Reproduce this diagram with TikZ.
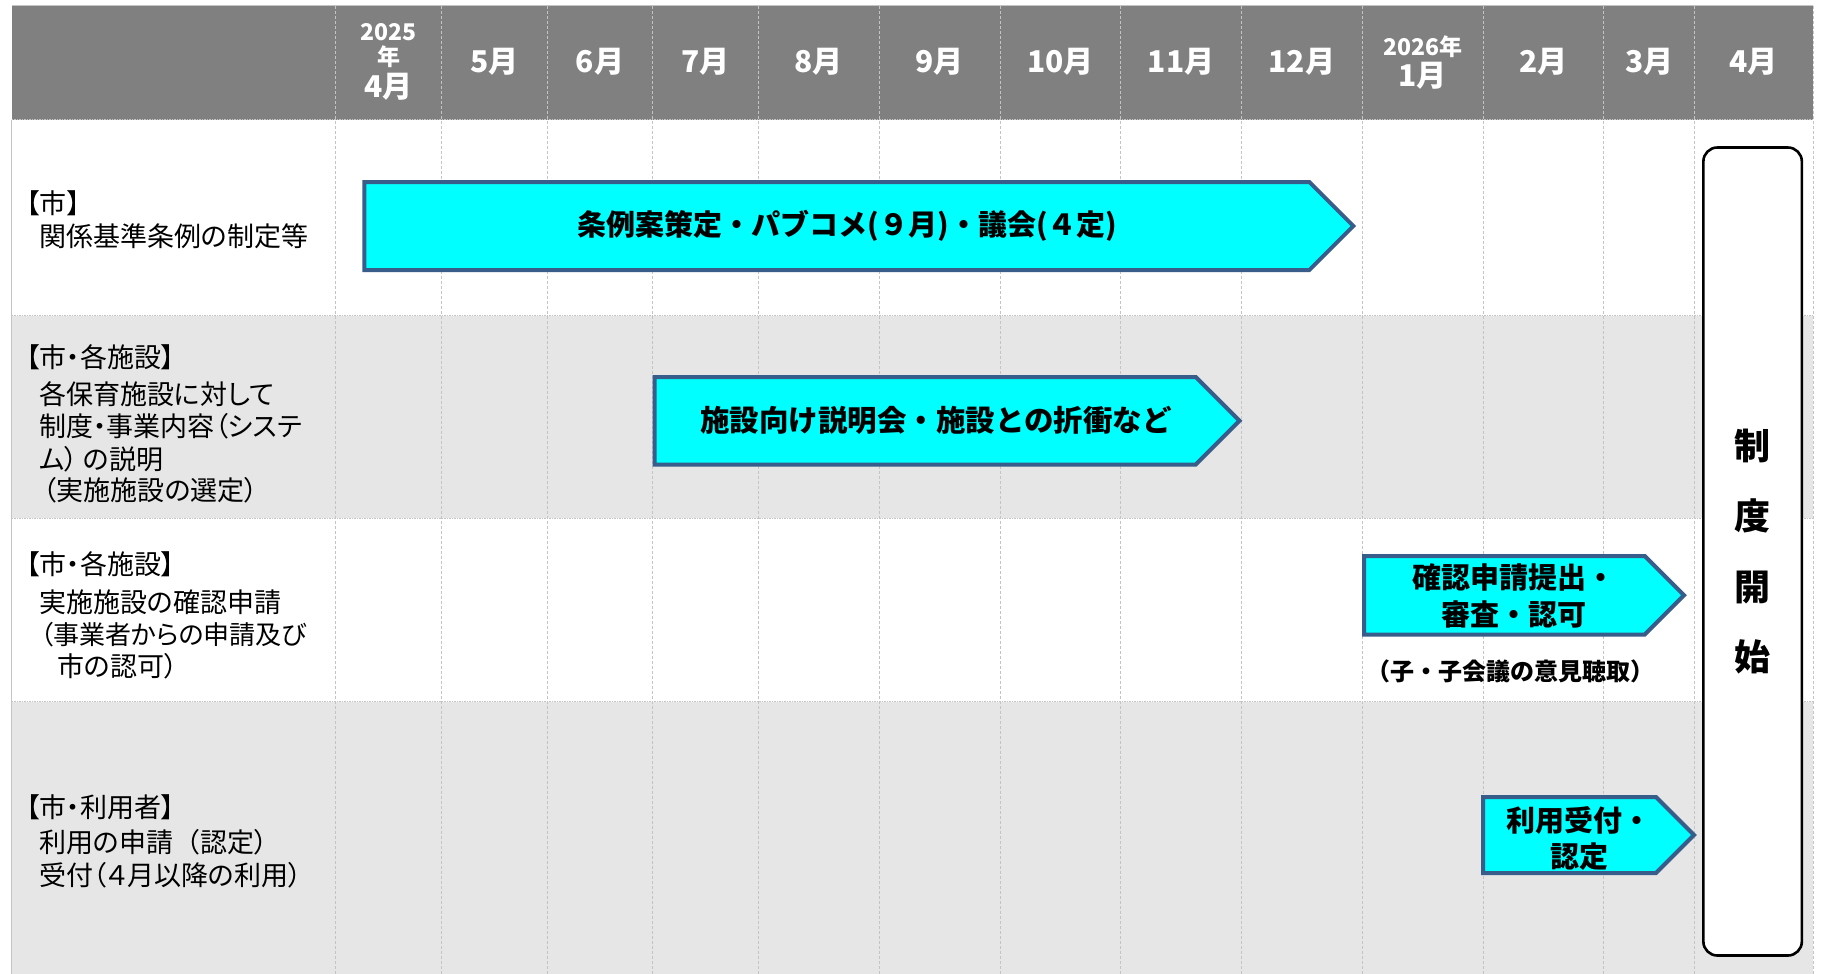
\documentclass[tikz,border=0pt]{standalone}
\usepackage{fontspec}
\setmainfont{Noto Sans CJK JP}
\newfontfamily\jpp[RawFeature=+palt]{Noto Sans CJK JP}
\newfontfamily\jpn{Noto Sans CJK JP}
\newcommand\lpar{{\jpn （}}
\definecolor{hdr}{HTML}{808080}
\definecolor{rowgrey}{HTML}{E6E6E6}
\definecolor{gridc}{HTML}{C4C4C4}
\definecolor{edgec}{HTML}{385D8A}
\definecolor{fillc}{HTML}{00FFFF}
\newcommand\sigshape[4]{%
  \draw[arrowbox] (#1,#2) -- ({#3-(#4-#2)/2},#2) -- (#3,{(#2+#4)/2}) -- ({#3-(#4-#2)/2},#4) -- (#1,#4) -- cycle;}
\tikzset{
  hdrtxt/.style={text=white, font=\bfseries\fontsize{30}{30}\selectfont, inner sep=0pt},
  hdrsmall/.style={text=white, font=\bfseries\fontsize{23}{23}\selectfont, inner sep=0pt},
  lbl/.style={anchor=west, inner sep=0pt, font=\jpp\fontsize{27}{27}\selectfont, text height=24pt, text depth=3pt},
  arrowbox/.style={draw=edgec, fill=fillc, line width=4pt, line join=miter},
  arrowtxt/.style={font=\bfseries\fontsize{29}{37}\selectfont, align=center, inner sep=0pt},
  gridv/.style={draw=gridc, line width=1pt, dash pattern=on 3pt off 2pt},
  gridh/.style={draw=gridc, line width=1pt, dash pattern=on 1.5pt off 1pt},
  startbox/.style={draw=black, fill=white, line width=2.6pt, rounded corners=14pt, minimum width=98.5pt, minimum height=808pt, inner sep=0pt, align=center, font=\bfseries\fontsize{36}{70.5}\selectfont},
}
\begin{document}
\begin{tikzpicture}[x=1pt,y=-1pt]
\useasboundingbox (0,0) rectangle (1821,974);
\fill[white] (0,0) rectangle (1821,974);
% header and row backgrounds
\fill[hdr] (11.6,5.8) rectangle (1813,119.6);
\fill[rowgrey] (11.6,315.9) rectangle (1813,518);
\fill[rowgrey] (11.6,701.5) rectangle (1813,974);
% grid
\foreach \gx in {335.6,441.3,547,652.7,758.4,879.2,1000,1120.7,1241.5,1362.3,1483.1,1603.9,1694.5,1813}
  \draw[gridv] (\gx,5.8) -- (\gx,974);
\foreach \gy in {119.6,315.9,518,701.5}
  \draw[gridh] (11.6,\gy) -- (1813,\gy);
\draw[draw=gridc, line width=1.2pt] (11.6,5.8) -- (1813,5.8);
\draw[draw=gridc, line width=1.5pt] (11.6,119.6) -- (11.6,974);
% header texts
\node[hdrsmall] (y25) at (388.5,32.5) {2025};
\node[hdrsmall] (n25) at (388.5,57) {年};
\node[hdrtxt] (m4) at (388.5,87) {4月};
\node[hdrtxt] (m5) at (494.2,62) {5月};
\node[hdrtxt] (m6) at (599.9,62) {6月};
\node[hdrtxt] (m7) at (705.6,62) {7月};
\node[hdrtxt] (m8) at (818.8,62) {8月};
\node[hdrtxt] (m9) at (939.6,62) {9月};
\node[hdrtxt] (m10) at (1060.4,62) {10月};
\node[hdrtxt] (m11) at (1181.1,62) {11月};
\node[hdrtxt] (m12) at (1301.9,62) {12月};
\node[hdrsmall] (y26) at (1422.7,46.5) {2026年};
\node[hdrtxt] (m1) at (1422.7,76) {1月};
\node[hdrtxt] (m2) at (1543.5,62) {2月};
\node[hdrtxt] (m3) at (1649.2,62) {3月};
\node[hdrtxt] (m4b) at (1753.8,62) {4月};
% left labels
\node[lbl] (r1h) at (26,203) {【市】};
\node[lbl] (r1a) at (39,236) {関係基準条例の制定等};
\node[lbl] (r2h) at (26,356.5) {【市・各施設】};
\node[lbl] (r2a) at (39,393.7) {各保育施設に対して};
\node[lbl] (r2b) at (39,426.2) {制度・事業内容（システ};
\node[lbl] (r2c) at (39,458.7) {ム）\hspace{5pt}の説明};
\node[lbl] (r2d) at (43,490) {（実施施設の選定）};
\node[lbl] (r3h) at (26,564.4) {【市・各施設】};
\node[lbl] (r3a) at (39,601.6) {実施施設の確認申請};
\node[lbl, font=\jpp\fontsize{26}{26}\selectfont] (r3b) at (40,634) {（事業者からの申請及び};
\node[lbl] (r3c) at (57,665.5) {市の認可）};
\node[lbl] (r4h) at (26,807) {【市・利用者】};
\node[lbl] (r4a) at (39,842) {利用の申請\lpar 認定）};
\node[lbl] (r4b) at (39,874.5) {受付（４月以降の利用）};
% arrows
\sigshape{364.4}{182}{1353.4}{270}
\node[arrowtxt] (a1) at (847.5,226) {条例案策定・パブコメ(９月)・議会(４定)};
\sigshape{654.7}{377}{1239.5}{464.5}
\node[arrowtxt, font=\bfseries\fontsize{29.5}{37}\selectfont] (a2) at (936,420.75) {施設向け説明会・施設との折衝など};
\sigshape{1364}{556}{1684}{634.5}
\node[arrowtxt] (a3) at (1514,596) {確認申請提出・\\審査・認可};
\node[font=\bfseries\fontsize{24}{24}\selectfont, inner sep=0pt] (a3n) at (1510,671) {（子・子会議の意見聴取）};
\sigshape{1483}{797}{1694}{873}
\node[arrowtxt, font=\bfseries\fontsize{29}{36}\selectfont] (a4) at (1579,838) {利用受付・\\認定};
% start box
\node[startbox] (start) at (1752.6,551.5) {制\\度\\開\\始};
\end{tikzpicture}
\end{document}
